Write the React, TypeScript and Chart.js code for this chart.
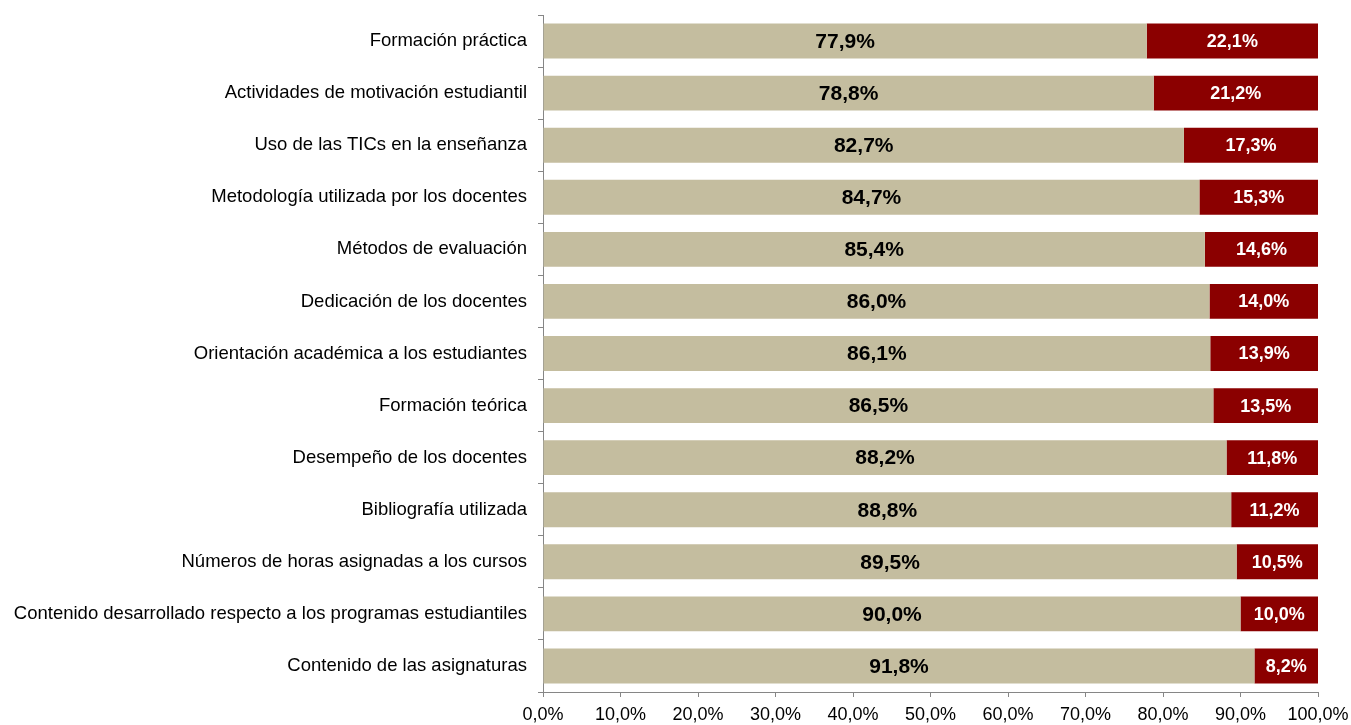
import React, { useEffect, useRef } from "react";
import { Chart, registerables } from "chart.js";

Chart.register(...registerables);

const categories = [
  "Formación práctica",
  "Actividades de motivación estudiantil",
  "Uso de las TICs en la enseñanza",
  "Metodología utilizada por los docentes",
  "Métodos de evaluación",
  "Dedicación de los docentes",
  "Orientación académica a los estudiantes",
  "Formación teórica",
  "Desempeño de los docentes",
  "Bibliografía utilizada",
  "Números de horas asignadas a los cursos",
  "Contenido desarrollado respecto a los programas estudiantiles",
  "Contenido de las asignaturas",
];
const positiveValues = [77.9, 78.8, 82.7, 84.7, 85.4, 86.0, 86.1, 86.5, 88.2, 88.8, 89.5, 90.0, 91.8];
const negativeValues = [22.1, 21.2, 17.3, 15.3, 14.6, 14.0, 13.9, 13.5, 11.8, 11.2, 10.5, 10.0, 8.2];
const xTickValues = [0, 10, 20, 30, 40, 50, 60, 70, 80, 90, 100];

const fmt = (v: number) => v.toFixed(1).replace(".", ",") + "%";
const FONT = "'Liberation Sans', Arial, sans-serif";

const labelPlugin = {
  id: "segLabels",
  afterDatasetsDraw(chart: any) {
    const ctx = chart.ctx;
    ctx.save();
    ctx.textAlign = "center";
    ctx.textBaseline = "middle";
    chart.data.datasets.forEach((ds: any, di: number) => {
      const meta = chart.getDatasetMeta(di);
      meta.data.forEach((bar: any, i: number) => {
        const left = Math.min(bar.base, bar.x);
        const right = Math.max(bar.base, bar.x);
        const cx = (left + right) / 2;
        if (di === 0) {
          ctx.font = `bold 21px ${FONT}`;
          ctx.fillStyle = "#000000";
        } else {
          ctx.font = `bold 18px ${FONT}`;
          ctx.fillStyle = "#ffffff";
        }
        ctx.fillText(fmt(ds.data[i]), cx, bar.y + 1);
      });
    });
    ctx.restore();
  },
};

export default function App() {
  const ref = useRef<HTMLCanvasElement>(null);
  useEffect(() => {
    if (!ref.current) return;
    const chart = new Chart(ref.current, {
      type: "bar",
      data: {
        labels: categories,
        datasets: [
          {
            label: "A",
            data: positiveValues,
            backgroundColor: "#C4BD9F",
            barPercentage: 0.67,
            categoryPercentage: 1,
          },
          {
            label: "B",
            data: negativeValues,
            backgroundColor: "#8B0000",
            barPercentage: 0.67,
            categoryPercentage: 1,
          },
        ],
      },
      options: {
        indexAxis: "y",
        responsive: false,
        animation: false,
        layout: { padding: { top: 15, right: 33, left: 0, bottom: 0 } },
        plugins: {
          legend: { display: false },
          tooltip: { enabled: false },
        },
        scales: {
          x: {
            stacked: true,
            min: 0,
            max: 100,
            afterBuildTicks: (scale: any) => {
              scale.ticks = xTickValues.map((v) => ({ value: v }));
            },
            afterFit: (scale: any) => {
              scale.height = 33;
              scale.paddingLeft = 0;
              scale.paddingRight = 0;
            },
            ticks: {
              color: "#000000",
              font: { family: FONT, size: 18 },
              padding: 7,
              maxRotation: 0,
              callback: (v: any) => fmt(Number(v)),
            },
            grid: {
              display: true,
              drawOnChartArea: false,
              drawTicks: true,
              tickLength: 5,
              color: "#868686",
            },
            border: { display: true, color: "#868686", width: 1 },
          },
          y: {
            stacked: true,
            afterFit: (scale: any) => {
              scale.width = 543;
              scale.paddingTop = 0;
              scale.paddingBottom = 0;
            },
            ticks: {
              color: "#000000",
              font: { family: FONT, size: 18.5 },
              padding: 11,
              autoSkip: false,
            },
            grid: {
              display: true,
              offset: true,
              drawOnChartArea: false,
              drawTicks: true,
              tickLength: 5,
              color: "#868686",
            },
            border: { display: true, color: "#868686", width: 1 },
          },
        },
      },
      plugins: [labelPlugin],
    } as any);
    return () => chart.destroy();
  }, []);
  return (
    <div style={{ position: "absolute", left: 0, top: 0, width: 1351, height: 725 }}>
      <canvas ref={ref} width={1351} height={725} style={{ width: 1351, height: 725 }} />
    </div>
  );
}
